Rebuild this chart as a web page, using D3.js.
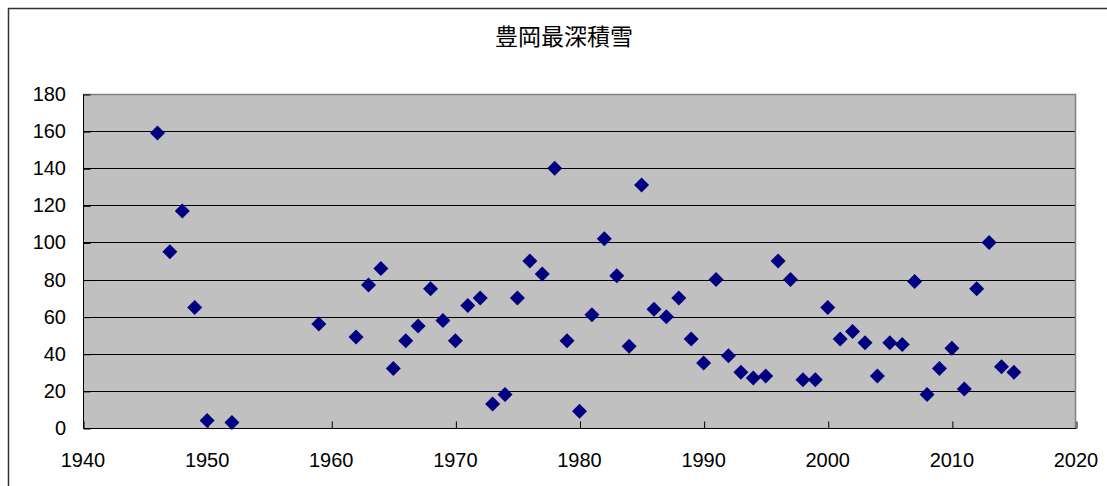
<!DOCTYPE html>
<html><head><meta charset="utf-8">
<script src="https://cdn.jsdelivr.net/npm/d3@7"></script>
<style>body{margin:0;background:#fff}svg{display:block}</style>
</head><body>
<svg id="c" width="1107" height="486"></svg>
<script>
const title = "豊岡最深積雪";
const years = [1946,1947,1948,1949,1950,1952,1959,1962,1963,1964,1965,1966,1967,1968,1969,1970,1971,1972,1973,1974,1975,1976,1977,1978,1979,1980,1981,1982,1983,1984,1985,1986,1987,1988,1989,1990,1991,1992,1993,1994,1995,1996,1997,1998,1999,2000,2001,2002,2003,2004,2005,2006,2007,2008,2009,2010,2011,2012,2013,2014,2015];
const depths = [159,95,117,65,4,3,56,49,77,86,32,47,55,75,58,47,66,70,13,18,70,90,83,140,47,9,61,102,82,44,131,64,60,70,48,35,80,39,30,27,28,90,80,26,26,65,48,52,46,28,46,45,79,18,32,43,21,75,100,33,30];
const xTicks = [1940,1950,1960,1970,1980,1990,2000,2010,2020];
const yTicks = [0,20,40,60,80,100,120,140,160,180];

const svg = d3.select("#c");
const L = 83, R = 1076, T = 94, B = 428;
const x = d3.scaleLinear().domain([1940, 2020]).range([L, R]);
const y = d3.scaleLinear().domain([0, 180]).range([B, T]);

// outer chart border
svg.append("rect").attr("x", 8.5).attr("y", 8.5).attr("width", 1200).attr("height", 600)
  .attr("fill", "#fff").attr("stroke", "#333").attr("stroke-width", 1.5);

// title
svg.append("text").attr("x", 564).attr("y", 45).attr("text-anchor", "middle")
  .attr("font-family", "'Noto Sans CJK JP'").attr("font-size", 23).attr("fill", "#000").text(title);

// plot background
svg.append("rect").attr("x", L).attr("y", T).attr("width", R - L).attr("height", B - T)
  .attr("fill", "#c0c0c0");

// gridlines
svg.append("g").selectAll("line").data(yTicks.filter(d => d > 0 && d < 180)).join("line")
  .attr("x1", L).attr("x2", R)
  .attr("y1", d => Math.round(y(d)) + 0.5).attr("y2", d => Math.round(y(d)) + 0.5)
  .attr("stroke", "#000").attr("stroke-width", 1);

// plot border top/right gray
svg.append("path").attr("d", `M${L},${T + 0.5}H${R - 0.5}V${B}`)
  .attr("fill", "none").attr("stroke", "#808080").attr("stroke-width", 1.5);

// y axis (ticks inside)
const yAxis = d3.axisRight(y).tickValues(yTicks).tickSize(7).tickFormat("");
const gy = svg.append("g").attr("transform", `translate(${L + 0.5},0.5)`).call(yAxis);
gy.select(".domain").attr("stroke", "#000").attr("d", `M0,${T}V${B}`);
gy.selectAll(".tick line").attr("stroke", "#000");

// y labels
svg.append("g").selectAll("text").data(yTicks).join("text")
  .attr("x", 66).attr("y", d => y(d) + 7).attr("text-anchor", "end")
  .attr("font-family", "'Liberation Sans', Arial, sans-serif").attr("font-size", 20).attr("fill", "#000")
  .text(d => d);

// x axis (ticks inside, upward)
const xAxis = d3.axisTop(x).tickValues(xTicks).tickSize(7).tickFormat("");
const gx = svg.append("g").attr("transform", `translate(0.5,${B + 0.5})`).call(xAxis);
gx.select(".domain").attr("stroke", "#000").attr("d", `M${L},0H${R}`);
gx.selectAll(".tick line").attr("stroke", "#000");

// x labels
svg.append("g").selectAll("text").data(xTicks).join("text")
  .attr("x", d => x(d)).attr("y", 467).attr("text-anchor", "middle")
  .attr("font-family", "'Liberation Sans', Arial, sans-serif").attr("font-size", 20).attr("fill", "#000")
  .text(d => d);

// markers
const s = 7.5;
svg.append("g").selectAll("path").data(years.map((yr, i) => [yr, depths[i]])).join("path")
  .attr("d", d => { const cx = x(d[0]), cy = y(d[1]);
    return `M${cx},${cy - s}L${cx + s},${cy}L${cx},${cy + s}L${cx - s},${cy}Z`; })
  .attr("fill", "#000080");
</script>
</body></html>
